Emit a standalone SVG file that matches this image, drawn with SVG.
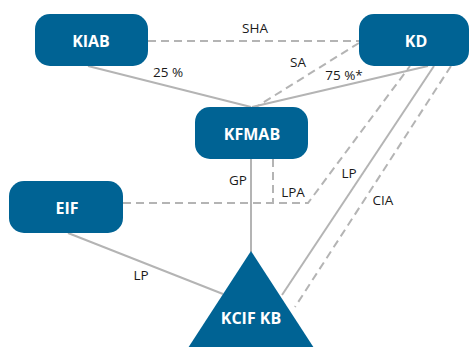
<svg xmlns="http://www.w3.org/2000/svg" width="470" height="347" viewBox="0 0 470 347">
<style>
.node{fill:#006394}
.nl{font-family:"Open Sans","Liberation Sans",sans-serif;font-weight:bold;font-size:16px;fill:#fff;text-anchor:middle}
.el{font-family:"Open Sans","Liberation Sans",sans-serif;font-size:13.5px;fill:#1a1a1a;text-anchor:middle}
.s{stroke:#b4b4b4;stroke-width:2;fill:none}
.d{stroke:#b4b4b4;stroke-width:2;fill:none;stroke-dasharray:8 5}
</style>
<rect width="470" height="347" fill="#fff"/>
<g id="connectors">
<line class="d" x1="148" y1="41" x2="359" y2="41"/>
<line class="s" x1="88" y1="66" x2="251" y2="107"/>
<line class="d" x1="359" y1="43" x2="256" y2="107"/>
<line class="s" x1="428" y1="66" x2="252" y2="107"/>
<line class="s" x1="251" y1="159" x2="251" y2="252"/>
<polyline class="d" points="273,159 273,203"/>
<polyline class="d" points="123,203 308,203 410,66"/>
<line class="s" x1="434" y1="66" x2="282" y2="295"/>
<line class="d" x1="451" y1="66" x2="295" y2="307"/>
<line class="s" x1="68" y1="233" x2="223" y2="294"/>
<text class="el" x="255" y="33">SHA</text>
<text class="el" x="298" y="67">SA</text>
<text class="el" x="344" y="80">75 %*</text>
<text class="el" x="168" y="77">25 %</text>
<text class="el" x="238" y="185">GP</text>
<text class="el" x="293" y="197">LPA</text>
<text class="el" x="349" y="178">LP</text>
<text class="el" x="383" y="205">CIA</text>
<text class="el" x="141" y="280">LP</text>
</g>
<g id="KIAB"><rect class="node" x="35" y="14" width="113" height="52" rx="15"/><text class="nl" x="91" y="47">KIAB</text></g>
<g id="KD"><rect class="node" x="359" y="14" width="110" height="52" rx="15"/><text class="nl" x="416" y="47">KD</text></g>
<g id="KFMAB"><rect class="node" x="195" y="107" width="113" height="52" rx="15"/><text class="nl" x="252" y="140">KFMAB</text></g>
<g id="EIF"><rect class="node" x="9" y="181" width="114" height="52" rx="15"/><text class="nl" x="67" y="214">EIF</text></g>
<g id="KCIF_KB"><polygon class="node" points="251,251 188,348 314,348"/><text class="nl" x="251" y="324">KCIF KB</text></g>
</svg>
